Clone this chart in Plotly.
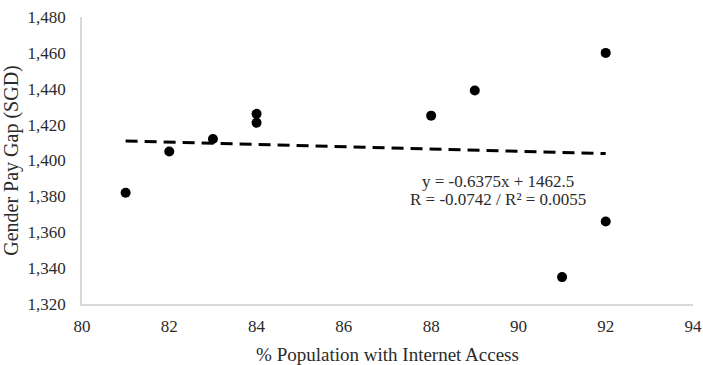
import plotly.graph_objects as go

internet_access = [81, 82, 83, 84, 84, 88, 89, 91, 92, 92]
pay_gap = [1382, 1405, 1412, 1426, 1421, 1425, 1439, 1335, 1460, 1366]
trend_slope = -0.6375
trend_intercept = 1462.5
trend_x = [81, 92]
trend_y = [trend_slope * x + trend_intercept for x in trend_x]
x_ticks = [80, 82, 84, 86, 88, 90, 92, 94]
y_ticks = [1320, 1340, 1360, 1380, 1400, 1420, 1440, 1460, 1480]
eq_lines = ["y = -0.6375x + 1462.5", "R = -0.0742 / R² = 0.0055"]

font = "Liberation Serif, Times New Roman, serif"
txt = "#2b2b2b"

fig = go.Figure()
fig.add_trace(go.Scatter(x=trend_x, y=trend_y, mode="lines",
                         line=dict(color="black", width=3, dash="12px,7px"),
                         hoverinfo="skip", showlegend=False))
fig.add_trace(go.Scatter(x=internet_access, y=pay_gap, mode="markers",
                         marker=dict(color="black", size=10),
                         showlegend=False))

for i, line in enumerate(eq_lines):
    fig.add_annotation(x=89.53, y=1383, xref="x", yref="y", yshift=9 - 18 * i,
                       text=line, showarrow=False,
                       font=dict(family=font, size=17, color=txt))

fig.update_layout(
    width=703, height=365,
    margin=dict(l=82, r=10, t=17, b=61),
    paper_bgcolor="white", plot_bgcolor="white",
    font=dict(family=font, size=17, color=txt),
    xaxis=dict(range=[80, 94], tickvals=x_ticks, ticktext=[str(v) for v in x_ticks],
               showgrid=False, zeroline=False, showline=True, linecolor="#d9d9d9",
               linewidth=1.5, ticks="outside", ticklen=6, tickcolor="rgba(0,0,0,0)",
               ticklabeloverflow="allow", automargin=False,
               title=dict(text="% Population with Internet Access",
                          font=dict(family=font, size=19, color=txt)),
               tickfont=dict(family=font, size=17, color=txt)),
    yaxis=dict(range=[1320, 1480], tickvals=y_ticks,
               ticktext=[f"{v:,}" for v in y_ticks],
               showgrid=False, zeroline=False, showline=True, linecolor="#d9d9d9",
               linewidth=1.5, ticks="outside", ticklen=11, tickcolor="rgba(0,0,0,0)",
               automargin=False,
               title=dict(text="Gender Pay Gap (SGD)",
                          font=dict(family=font, size=20, color=txt)),
               tickfont=dict(family=font, size=17, color=txt)),
)

fig.write_html("out.html", config={"displayModeBar": False},
               post_script="document.body.style.margin='0';document.body.style.overflow='hidden';")
